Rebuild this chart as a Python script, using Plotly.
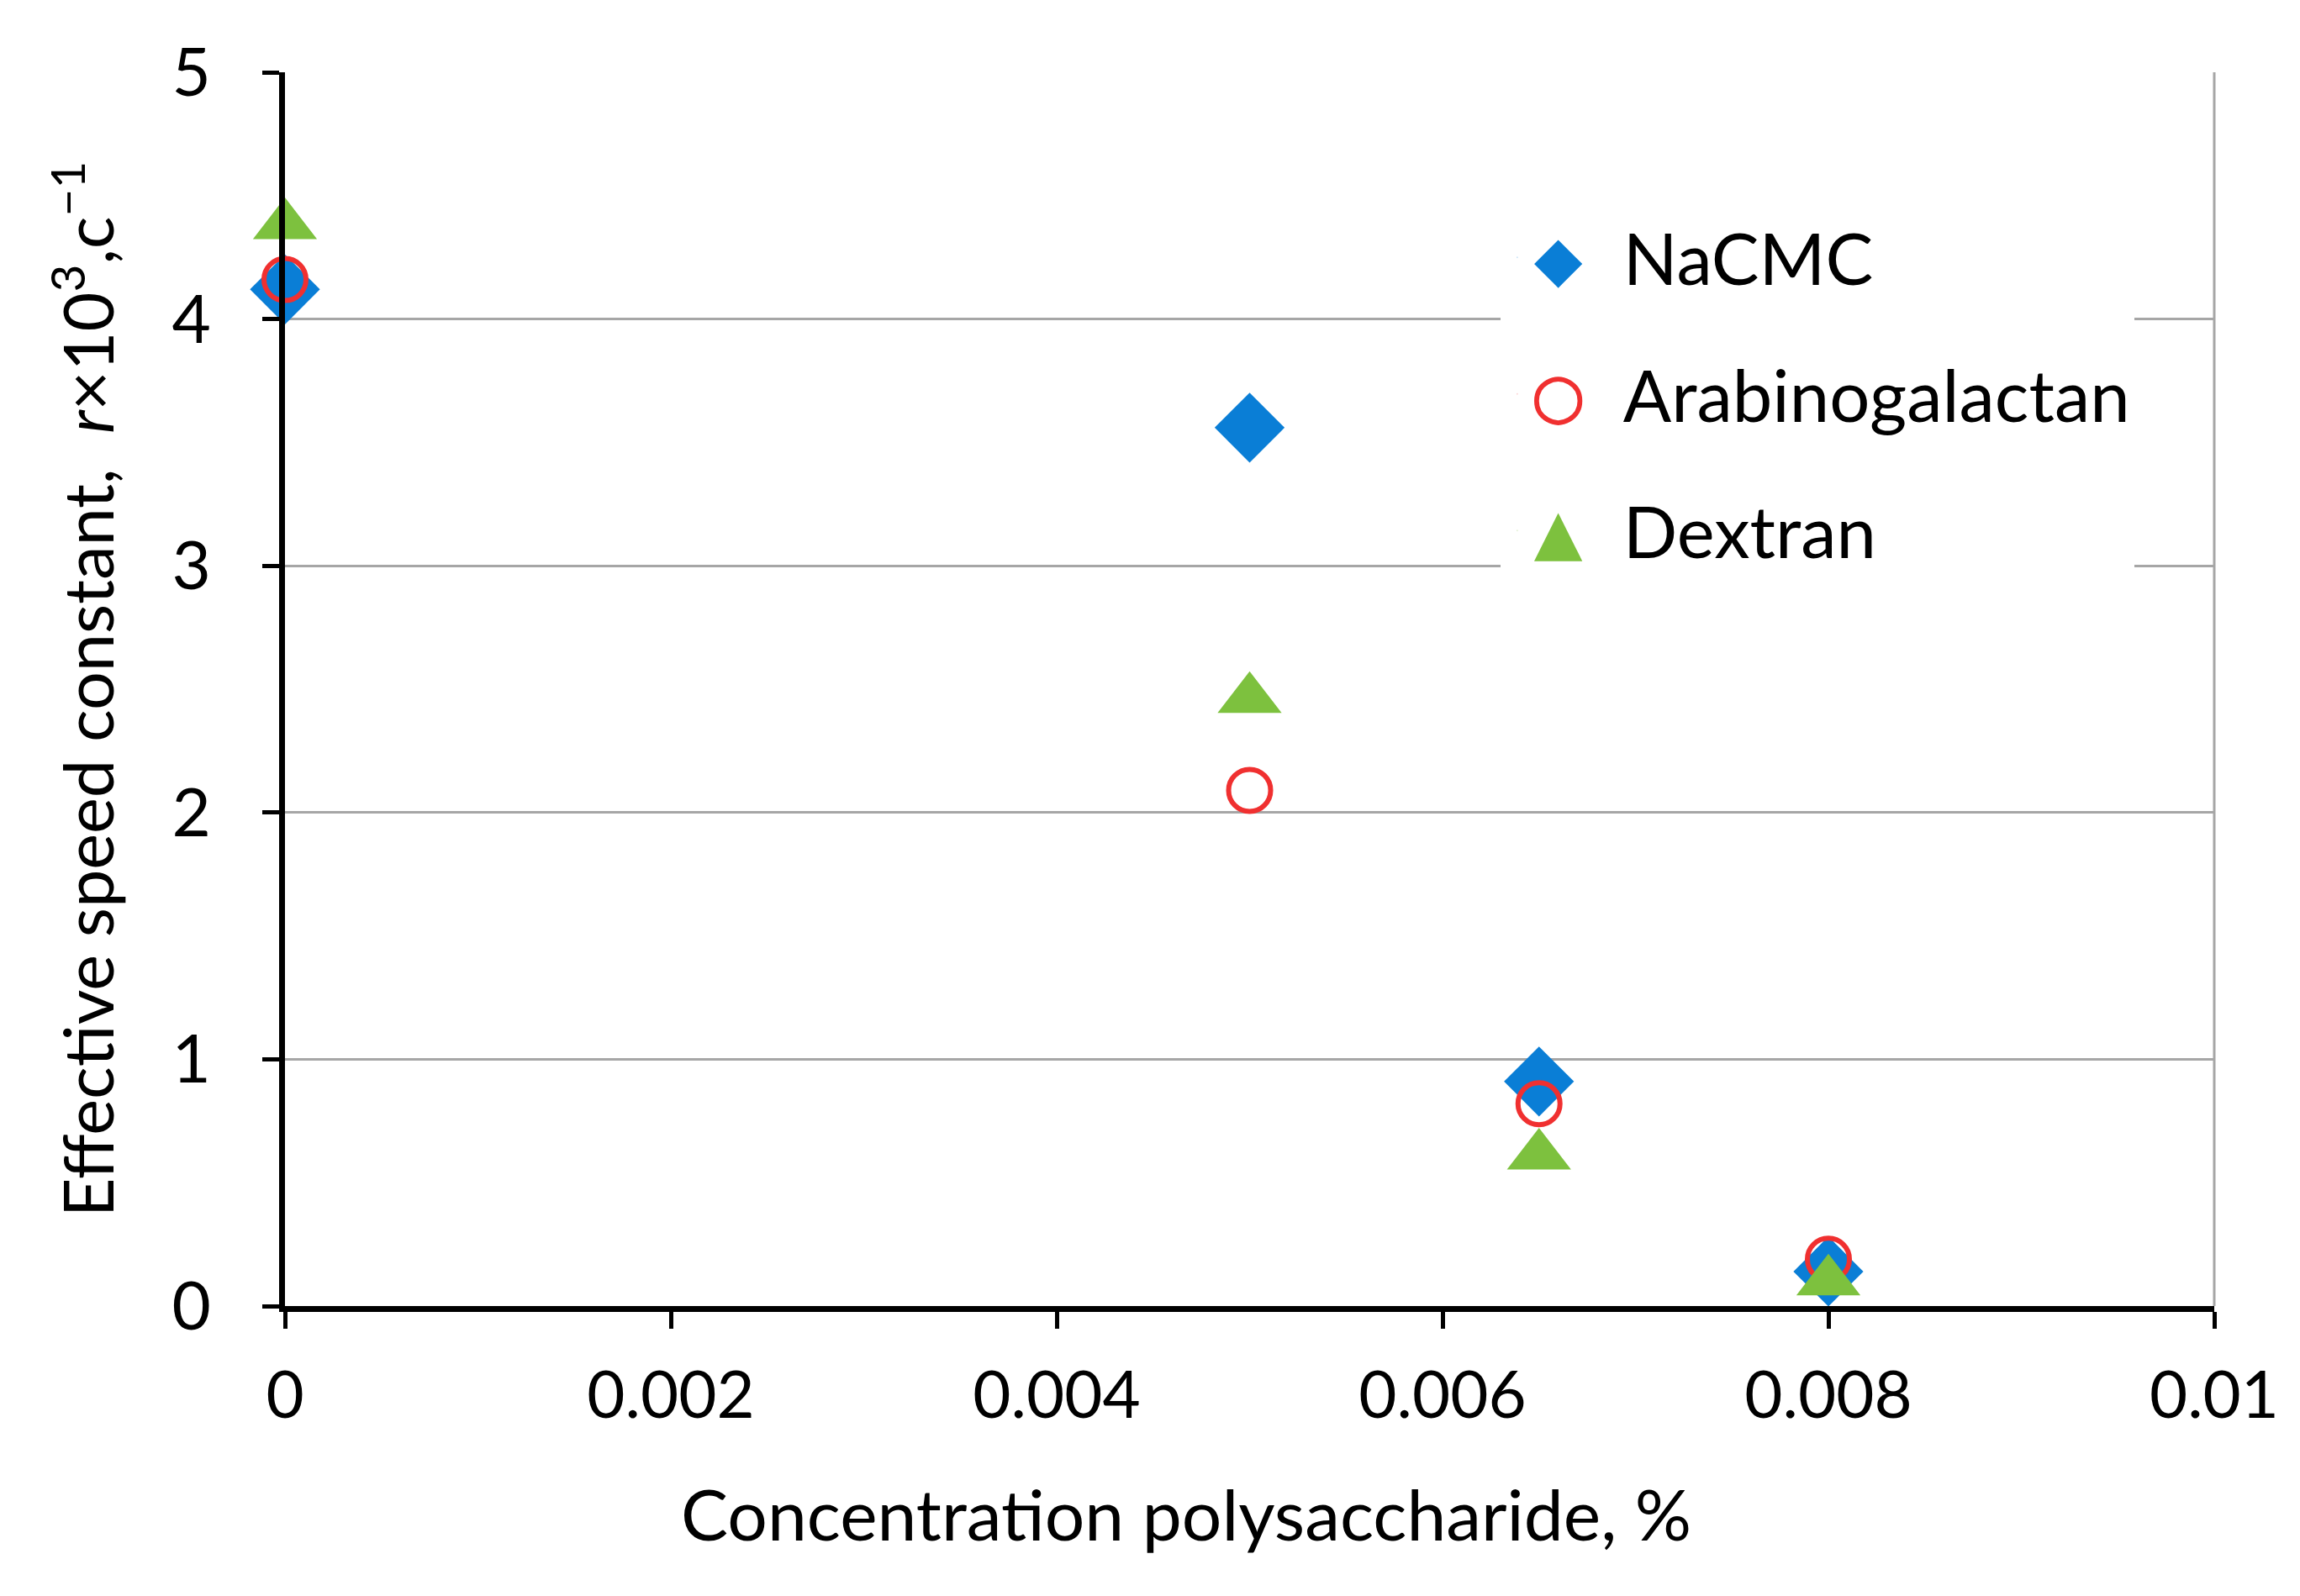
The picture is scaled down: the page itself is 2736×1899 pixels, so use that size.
import plotly.graph_objects as go

concentration = [0, 0.005, 0.0065, 0.008]
nacmc = [4.12, 3.56, 0.91, 0.14]
arabinogalactan = [4.16, 2.09, 0.82, 0.19]
dextran = [4.38, 2.46, 0.61, 0.10]

series_names = ["NaCMC", "Arabinogalactan", "Dextran"]
legend_glyphs = ["◆", "○", "▲"]
colors = ["#0A7ED6", "#F03030", "#7DC13E"]

x_tickvals = [0, 0.002, 0.004, 0.006, 0.008, 0.01]
x_ticktext = ["0", "0.002", "0.004", "0.006", "0.008", "0.01"]
y_tickvals = [0, 1, 2, 3, 4, 5]

FONT = "Lato, Carlito, Calibri, sans-serif"
MONO = "DejaVu Sans Mono"

fig = go.Figure()
fig.add_trace(go.Scatter(
    x=concentration, y=nacmc, mode="markers", name=series_names[0], showlegend=False,
    marker=dict(symbol="diamond", size=64, color=colors[0], line=dict(width=0)),
    cliponaxis=False))
fig.add_trace(go.Scatter(
    x=concentration, y=arabinogalactan, mode="markers", name=series_names[1], showlegend=False,
    marker=dict(symbol="circle-open", size=50, color=colors[1], line=dict(width=6, color=colors[1])),
    cliponaxis=False))
fig.add_trace(go.Scatter(
    x=concentration, y=dextran, mode="markers", name=series_names[2], showlegend=False,
    marker=dict(symbol="triangle-up", size=66, color=colors[2], line=dict(width=0)),
    cliponaxis=False))

# legend entries: large coloured glyphs as real text (plotly caps legend marker size)
for i, (nm, g, c) in enumerate(zip(series_names, legend_glyphs, colors)):
    fig.add_trace(go.Scatter(
        x=[None], y=[None], mode="markers", legendgroup=f"g{i}",
        name=(f"<span style='font-family:{MONO};color:{c};font-size:96px'>{g}</span>"
              f"<span style='font-family:{MONO};font-size:80px'> </span>{nm}"),
        marker=dict(opacity=0, size=1, color=c), hoverinfo="skip"))

fig.update_layout(
    width=2736, height=1899,
    margin=dict(l=331, r=110, t=78, b=353),
    paper_bgcolor="white", plot_bgcolor="white",
    font=dict(family=FONT, size=80, color="black"),
    showlegend=True,
    legend=dict(
        x=0.630, y=0.892, xanchor="left", yanchor="top",
        bgcolor="white", borderwidth=0,
        font=dict(family=FONT, size=85, color="black"),
        tracegroupgap=49, itemwidth=30,
    ),
    xaxis=dict(
        range=[0, 0.01], tickvals=x_tickvals, ticktext=x_ticktext,
        showline=True, linecolor="black", linewidth=7,
        ticks="outside", ticklen=20, tickwidth=5, tickcolor="black",
        showgrid=False, zeroline=False, ticklabelstandoff=12,
        tickfont=dict(size=78),
    ),
    yaxis=dict(
        range=[0, 5], tickvals=y_tickvals,
        showline=True, linecolor="black", linewidth=7,
        ticks="outside", ticklen=20, tickwidth=5, tickcolor="black",
        showgrid=True, gridcolor="#A6A6A6", gridwidth=3, zeroline=False,
        ticklabelstandoff=45, tickfont=dict(size=80),
        title=dict(text="Effective speed constant,  <i>r</i>×10<sup>3</sup>,c<sup>−1</sup>",
                   font=dict(size=81), standoff=45),
    ),
    annotations=[dict(
        text="Concentration polysaccharide, %", xref="paper", yref="paper",
        x=0.467, y=-0.132, xanchor="center", yanchor="top", showarrow=False,
        font=dict(family=FONT, size=84, color="black"))],
)

# right border of the plot area
fig.add_shape(type="line", xref="x domain", yref="y domain", x0=1, x1=1, y0=0, y1=1,
              line=dict(color="#A6A6A6", width=3), layer="below")

fig.write_html("out.html")
